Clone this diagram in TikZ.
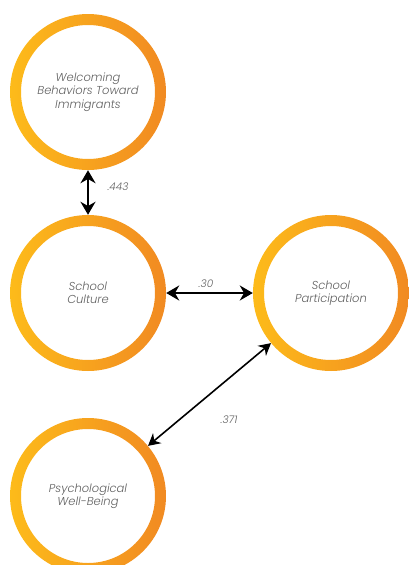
\documentclass[tikz,border=0pt]{standalone}
\usepackage{fontspec}
\setmainfont{Poppins}[ItalicFont=* Light Italic]
\usetikzlibrary{arrows.meta}
\definecolor{ringleft}{HTML}{FDBB1A}
\definecolor{ringright}{HTML}{F18A22}
\definecolor{labelgray}{HTML}{606060}
\tikzset{
  factor/.style={circle,minimum size=156pt,inner sep=0pt,align=center,
    font=\fontsize{11.5}{13.5}\selectfont\itshape,text=labelgray,
    path picture={\shade[left color=ringleft,right color=ringright,even odd rule]
      (path picture bounding box.center) circle (78pt) circle (67pt);}},
  link/.style={line width=2.6pt,{Stealth[length=13pt,width=15pt]}-{Stealth[length=13pt,width=15pt]}},
  thinlink/.style={line width=1.6pt,{Stealth[length=12pt,width=13pt]}-{Stealth[length=12pt,width=13pt]}},
  coef/.style={font=\fontsize{10.5}{12}\selectfont\itshape,text=labelgray,inner sep=1pt}
}
\begin{document}
\begin{tikzpicture}[x=1pt,y=-1pt]
  \useasboundingbox (0,0) rectangle (408,565);

  % Factores
  \node[factor] (welcome) at (88,92) {Welcoming\\Behaviors Toward\\Immigrants};
  \node[factor] (culture) at (88,293) {School\\Culture};
  \node[factor] (particip) at (331,293) {School\\Participation};
  \node[factor] (wellbeing) at (88,496) {Psychological\\Well-Being};

  % Correlaciones
  \draw[link] (welcome) -- (culture);
  \draw[link] (culture) -- (particip);
  \draw[thinlink] (wellbeing) -- (particip);

  % Coeficientes
  \node[coef] (c443) at (118,187) {.443};
  \node[coef] (c30) at (206,284) {.30};
  \node[coef] (c371) at (229,420) {.371};
\end{tikzpicture}
\end{document}
